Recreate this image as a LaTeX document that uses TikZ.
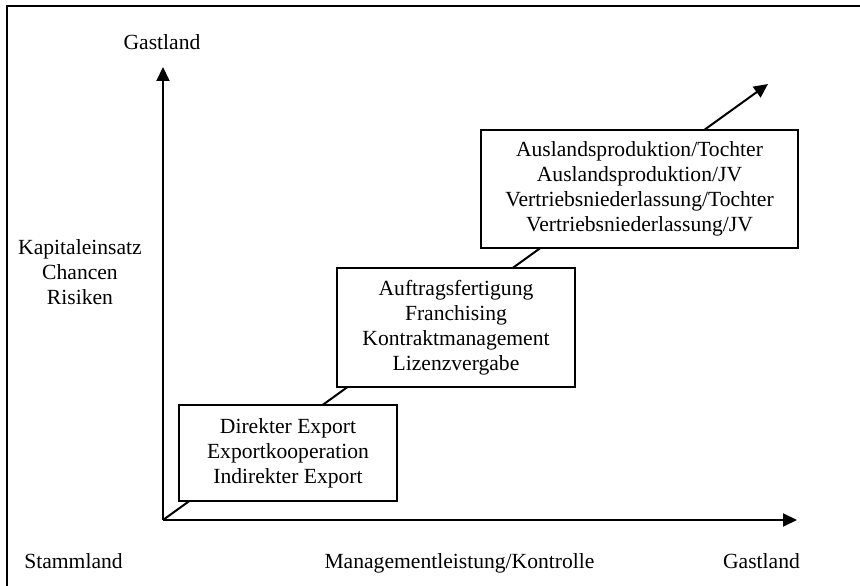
\documentclass[tikz,border=0pt]{standalone}
\usepackage{fontspec}
\setmainfont{Liberation Serif}
\usepackage{tikz}
\usetikzlibrary{arrows.meta,positioning}

\begin{document}
\begin{tikzpicture}[
  x=1pt, y=1pt,
  axis/.style={line width=2pt, -{Triangle[length=14pt, width=13pt]}},
  stage/.style={draw, line width=2pt, fill=white, inner sep=0pt, align=center,
                font=\fontsize{21.6}{25}\selectfont},
  lbl/.style={font=\fontsize{21.6}{25}\selectfont, align=center}
]
  \useasboundingbox (-163,-66) rectangle (697,520);

  % Frame (only left and top edges visible)
  \draw[line width=2pt] (-156,-66) -- (-156,514) -- (697,514);

  % Axes
  \coordinate (O) at (0,0);
  \coordinate (ytip) at (0,453);
  \coordinate (xtip) at (634,0);
  \coordinate (dtip) at (605,436);
  \draw[axis] (O) -- (ytip);
  \draw[axis] (O) -- (xtip);
  \draw[axis] (O) -- (dtip);

  % Stages
  \node[stage, minimum width=218pt, minimum height=96pt] (s1) at (125,67)
    {Direkter Export\\Exportkooperation\\Indirekter Export};
  \node[stage, minimum width=238pt, minimum height=119pt] (s2) at (293,192.5)
    {Auftragsfertigung\\Franchising\\Kontraktmanagement\\Lizenzvergabe};
  \node[stage, minimum width=317pt, minimum height=118pt] (s3) at (476.5,331)
    {Auslandsproduktion/Tochter\\Auslandsproduktion/JV\\Vertriebsniederlassung/Tochter\\Vertriebsniederlassung/JV};

  % Axis labels
  \node[lbl] (gasty) at (-1,478) {Gastland};
  \node[lbl] (kap) at (-83,248) {Kapitaleinsatz\\Chancen\\Risiken};
  \node[lbl, anchor=base] (stamm) at (-89.5,-49) {Stammland};
  \node[lbl, anchor=base] (mgmt) at (296.5,-49) {Managementleistung/Kontrolle};
  \node[lbl, anchor=base] (gastx) at (598.5,-49) {Gastland};
\end{tikzpicture}
\end{document}
